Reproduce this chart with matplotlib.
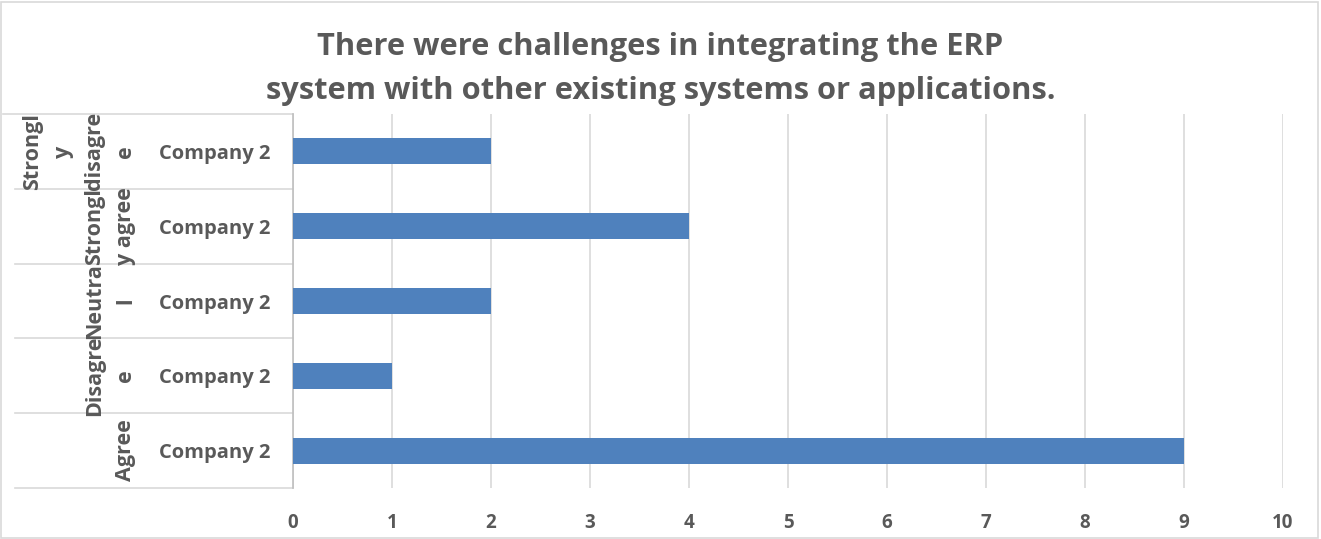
import matplotlib
matplotlib.use('Agg')
import matplotlib.pyplot as plt
from matplotlib.patches import Rectangle

plt.rcParams['font.family'] = ['Open Sans', 'DejaVu Sans']

# Responses, listed bottom to top as they appear on the axis
responses = ['Agree', 'Disagree', 'Neutral', 'Strongly agree', 'Strongly disagree']
# wrapped the way the category cells wrap them
response_labels = ['Agree', 'Disagre\ne', 'Neutra\nl', 'Strongl\ny agree', 'Strongl\ny\ndisagre\ne']
company = ['Company 2'] * 5
counts = [9, 1, 2, 4, 2]
xticks = list(range(0, 11))

title = 'There were challenges in integrating the ERP\nsystem with other existing systems or applications.'

TEXT = '#595959'
GRID = '#D9D9D9'
BAR = '#4F81BD'

W, H = 1321, 539
fig = plt.figure(figsize=(W / 100, H / 100), dpi=100)
fig.patch.set_facecolor('white')
fig.patches.append(Rectangle((0.001, 0.002), 0.997, 0.995, transform=fig.transFigure,
                             fill=False, edgecolor=GRID, linewidth=1.2))

x0, x1, y_top, y_bot = 293, 1283, 114, 488
ax = fig.add_axes([x0 / W, 1 - y_bot / H, (x1 - x0) / W, (y_bot - y_top) / H])

pos = list(range(len(responses)))
ax.barh(pos, counts, height=0.35, color=BAR, zorder=3)

ax.set_xlim(0, 10)
ax.set_ylim(-0.5, len(responses) - 0.5)
ax.set_xticks(xticks)
ax.set_xticklabels([str(t) for t in xticks], fontsize=13.5, fontweight='bold', color=TEXT)
ax.tick_params(axis='x', length=0, pad=18)
ax.set_yticks(pos)
ax.set_yticklabels(company, fontsize=14.5, fontweight='bold', color=TEXT)
ax.tick_params(axis='y', length=0, pad=16)

ax.grid(axis='x', color=GRID, linewidth=1.2, zorder=0)
for side in ['top', 'right', 'bottom']:
    ax.spines[side].set_visible(False)
ax.spines['left'].set_color('#BFBFBF')
ax.spines['left'].set_linewidth(1.2)

# category separators across the label area
ytr = ax.get_yaxis_transform()
left_frac = (15 - x0) / (x1 - x0)
for i in range(len(responses) + 1):
    xs = left_frac if i < len(responses) else (3 - x0) / (x1 - x0)
    ax.plot([xs, 0], [i - 0.5, i - 0.5], transform=ytr, color=GRID,
            linewidth=1.2, clip_on=False)

# outer response labels, rotated
lab_x = (136 - x0) / (x1 - x0)
for p, lab in zip(pos, response_labels):
    ax.text(lab_x, p, lab, transform=ytr, rotation=90, ha='right', va='center',
            multialignment='center', fontsize=15.5, fontweight='bold', color=TEXT,
            linespacing=1.62)

fig.text(0.5, 1 - 69 / H, title, ha='center', va='center', fontsize=22.2,
         fontweight='bold', color=TEXT, linespacing=1.65)

fig.savefig('out.png', dpi=100)
